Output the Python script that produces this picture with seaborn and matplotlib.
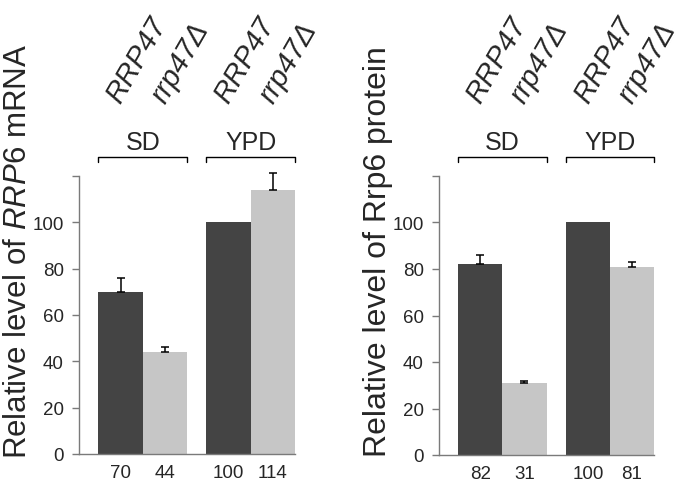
import numpy as np
import pandas as pd
from matplotlib import pyplot as plt
import seaborn as sns

conditions = ["SD", "SD", "YPD", "YPD"]
strains = ["RRP47", "rrp47Δ", "RRP47", "rrp47Δ"]
mrna = [70, 44, 100, 114]
mrna_err = [6, 2, 0, 7.5]
protein = [82, 31, 100, 81]
protein_err = [4, 1, 0, 2]
yticks = [0, 20, 40, 60, 80, 100, 120]

sns.set_style("white")
plt.rcParams['font.family'] = ['Liberation Sans', 'DejaVu Sans']
plt.rcParams['mathtext.fontset'] = 'custom'
plt.rcParams['mathtext.rm'] = 'Liberation Sans'
plt.rcParams['mathtext.it'] = 'Liberation Sans:italic'

dark = "#444444"
light = "#c6c6c6"
axcol = "#7a7a7a"


def panel(ax, values, errs, ylabel, lab_size, lab_x):
    df = pd.DataFrame({"cond": conditions, "strain": strains, "val": values})
    sns.barplot(data=df, x="cond", y="val", hue="strain", hue_order=["RRP47", "rrp47Δ"],
                palette=[dark, light], width=0.82, errorbar=None, legend=False,
                saturation=1, ax=ax)
    bars = sorted(ax.patches, key=lambda p: p.get_x())
    bars = [b for b in bars if b.get_width() > 0]
    xs = [b.get_x() + b.get_width() / 2 for b in bars]
    for b in bars:
        b.set_edgecolor("none")
    for x, v, e in zip(xs, values, errs):
        if e > 0:
            eb = ax.errorbar(x, v, yerr=[[0], [e]], fmt="none", ecolor="black",
                             elinewidth=1.1, capsize=3, capthick=1.1)
            for art in eb.lines[1] + eb.lines[2]:
                art.set_clip_on(False)
        ax.text(x, -4.5, str(v), ha="center", va="top", fontsize=13.5)
    ax.set_ylim(0, 120)
    ax.set_xlim(-0.59, 1.41)
    ax.set_yticks(yticks)
    ax.set_yticklabels([str(t) if t < 120 else "" for t in yticks], fontsize=13.5)
    ax.set_xticks([])
    ax.set_xlabel("")
    ax.set_ylabel(ylabel, fontsize=lab_size)
    ax.yaxis.set_label_coords(lab_x, 0.734)
    ax.tick_params(axis="y", left=True, length=5, width=1, color=axcol, pad=6)
    sns.despine(ax=ax)
    for s in ["left", "bottom"]:
        ax.spines[s].set_color(axcol)
        ax.spines[s].set_linewidth(1)
    trans = ax.get_xaxis_transform()
    for x, s in zip(xs, strains):
        ax.text(x, 1.259, s, transform=trans, rotation=60, rotation_mode="anchor",
                ha="left", va="baseline", fontsize=21, style="italic")
    for i, cond in enumerate(["SD", "YPD"]):
        x0 = bars[2 * i].get_x()
        x1 = bars[2 * i + 1].get_x() + bars[2 * i + 1].get_width()
        ax.plot([x0, x0, x1, x1], [1.05, 1.068, 1.068, 1.05], transform=trans,
                color="black", lw=1, clip_on=False)
        ax.text((x0 + x1) / 2, 1.097, cond, transform=trans, ha="center",
                va="baseline", fontsize=18)


fig = plt.figure(figsize=(6.83, 4.89), dpi=100)
ax1 = fig.add_axes([79 / 683, 1 - 455 / 489, 216 / 683, 278 / 489])
ax2 = fig.add_axes([439 / 683, 1 - 456 / 489, 215 / 683, 279 / 489])

panel(ax1, mrna, mrna_err, r"Relative level of $\it{RRP6}$ mRNA", 22.5, -0.215)
panel(ax2, protein, protein_err, "Relative level of Rrp6 protein", 23, -0.216)

fig.savefig("out.png", dpi=100)
